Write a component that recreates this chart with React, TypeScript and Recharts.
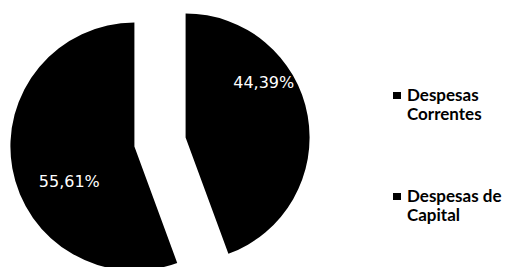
import { PieChart, Pie, Sector, Legend } from "recharts";

const categories = ["Despesas Correntes", "Despesas de Capital"];
const shares = [44.39, 55.61];
const labels = ["44,39%", "55,61%"];

const RAD = Math.PI / 180;
const EXPLODE = 26;
// label placement tweaks (angle shift from mid-angle, fraction of radius)
const labelShift = [26, 17];
const labelDist = [0.78, 0.59];

const data = categories.map((name, i) => ({ name, value: shares[i], label: labels[i] }));

const explodedCenter = (cx: number, cy: number, midAngle: number) => ({
  x: cx + EXPLODE * Math.cos(-midAngle * RAD),
  y: cy + EXPLODE * Math.sin(-midAngle * RAD),
});

const ExplodedSlice = (props: any) => {
  const c = explodedCenter(props.cx, props.cy, props.midAngle);
  return <Sector {...props} cx={c.x} cy={c.y} fill="#000" stroke="none" />;
};

const renderLabel = (props: any) => {
  const { cx, cy, midAngle, outerRadius, index } = props;
  const c = explodedCenter(cx, cy, midAngle);
  const a = (midAngle + labelShift[index]) * RAD;
  const r = outerRadius * labelDist[index];
  return (
    <text
      x={c.x + r * Math.cos(-a)}
      y={c.y + r * Math.sin(-a) + 2}
      fill="#fff"
      textAnchor="middle"
      dominantBaseline="central"
      fontSize={16}
      fontFamily="DejaVu Sans"
    >
      {data[index].label}
    </text>
  );
};

const renderLegend = (props: any) => (
  <div style={{ fontFamily: "Lato", fontWeight: 700, fontSize: 17, color: "#000" }}>
    {props.payload.map((entry: any, i: number) => (
      <div key={i} style={{ display: "flex", alignItems: "flex-start", marginBottom: i === 0 ? 63 : 0 }}>
        <span style={{ width: 8, height: 7, background: "#000", marginTop: 7, marginRight: 6, flexShrink: 0 }} />
        <span style={{ width: 104, lineHeight: "19px" }}>{entry.value}</span>
      </div>
    ))}
  </div>
);

export default function App() {
  return (
    <div style={{ position: "absolute", left: 0, top: 0, width: 510, height: 267, background: "#fff" }}>
      <PieChart width={510} height={267} margin={{ top: 0, right: 0, bottom: 0, left: 0 }}>
        <Pie
          data={data}
          dataKey="value"
          nameKey="name"
          cx={160}
          cy={142}
          outerRadius={124}
          startAngle={90}
          endAngle={-270}
          stroke="none"
          shape={ExplodedSlice}
          label={renderLabel}
          labelLine={false}
          isAnimationActive={false}
        />
        <Legend
          layout="vertical"
          align="right"
          verticalAlign="top"
          content={renderLegend}
          wrapperStyle={{ left: 393, top: 85, width: 120 }}
        />
      </PieChart>
    </div>
  );
}
